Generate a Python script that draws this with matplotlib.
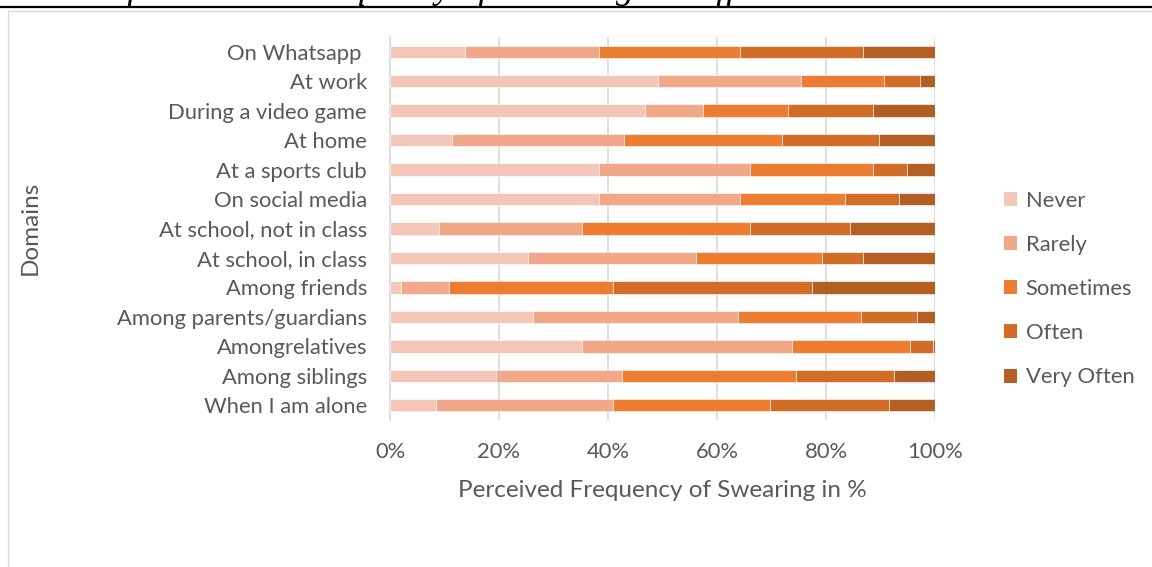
import matplotlib
matplotlib.use("Agg")
import matplotlib.pyplot as plt
from matplotlib.patches import Rectangle, Patch
from matplotlib.lines import Line2D
import numpy as np

categories = ["On Whatsapp ", "At work", "During a video game", "At home",
              "At a sports club", "On social media", "At school, not in class",
              "At school, in class", "Among friends", "Among parents/guardians",
              "Amongrelatives", "Among siblings", "When I am alone"]
never =      [13.7, 49.1, 46.7, 11.3, 38.3, 38.3,  9.0, 25.4,  2.0, 26.3, 35.3, 19.4,  8.4]
rarely =     [24.6, 26.4, 10.8, 31.7, 27.8, 25.9, 26.3, 30.8,  8.8, 37.5, 38.4, 23.1, 32.6]
sometimes =  [25.9, 15.1, 15.6, 29.0, 22.6, 19.2, 30.7, 23.1, 30.2, 22.6, 21.8, 32.0, 28.8]
often =      [22.6,  6.7, 15.6, 17.8,  6.1, 10.0, 18.4,  7.5, 36.5, 10.3,  4.2, 18.0, 21.8]
very_often = [13.2,  2.7, 11.3, 10.2,  5.2,  6.6, 15.6, 13.2, 22.5,  3.3,  0.3,  7.5,  8.4]
series_names = ["Never", "Rarely", "Sometimes", "Often", "Very Often"]
xticks = [0, 20, 40, 60, 80, 100]
xtick_labels = ["0%", "20%", "40%", "60%", "80%", "100%"]

colors = ["#F4C6B7", "#F0A889", "#ED7D31", "#D26D28", "#B35E22"]
txt = "#595959"
font = "Lato"
fs = 15.8

W, H = 1152, 567
fig = plt.figure(figsize=(W / 100, H / 100), dpi=100)

# title remnant (clipped by the top edge, as in the reference) + rule + chart border
fig.text(-0.003, 1 + 1.5 / H, "Results of Perceived Frequency of Swearing in Different Contexts",
         family="Liberation Serif", style="italic", fontsize=26,
         va="baseline", ha="left", color="black")
fig.add_artist(Line2D([0, 1], [1 - 7 / H, 1 - 7 / H], transform=fig.transFigure,
                      color="black", lw=1.6))
fig.add_artist(Rectangle((8 / W, -0.1), 1.2, 1.1 - 11 / H, transform=fig.transFigure,
                         fill=False, edgecolor="#D9D9D9", lw=1))

ax = fig.add_axes([390 / W, 1 - 420 / H, (935 - 390) / W, (420 - 37) / H])
data = [never, rarely, sometimes, often, very_often]
y = np.arange(len(categories))
left = np.zeros(len(categories))
for vals, c, name in zip(data, colors, series_names):
    v = np.array(vals)
    ax.barh(y, v, left=left, height=0.42, color=c, edgecolor="white", linewidth=0.4,
            label=name, zorder=3)
    left += v

ax.set_ylim(len(categories) - 0.5, -0.5)
ax.set_xlim(0, 100)
ax.set_xticks(xticks)
ax.set_xticklabels(xtick_labels, family=font, fontsize=fs, color=txt)
ax.set_yticks(y)
ax.set_yticklabels(categories, family=font, fontsize=fs, color=txt)
ax.tick_params(length=0)
ax.tick_params(axis="x", pad=16)
ax.tick_params(axis="y", pad=16.5)
ax.grid(axis="x", color="#D9D9D9", lw=1.2, zorder=0)
for s in ["top", "right", "bottom"]:
    ax.spines[s].set_visible(False)
ax.spines["left"].set_color("#D9D9D9")
ax.spines["left"].set_linewidth(1.2)
ax.set_xlabel("Perceived Frequency of Swearing in %", family=font, fontsize=17.5,
              color=txt, labelpad=13)
fig.text(30 / W, 1 - 228 / H, "Domains", rotation=90, family=font, fontsize=17.5,
         color=txt, ha="center", va="center")

handles = [Patch(facecolor=c, edgecolor="none") for c in colors]
fig.legend(handles, series_names, loc="upper left", bbox_to_anchor=(995 / W, 1 - 182 / H),
           frameon=False, prop={"family": font, "size": fs}, labelcolor=txt,
           handlelength=0.6, handleheight=0.6, handletextpad=0.4, labelspacing=1.1,
           borderaxespad=0)

fig.savefig("out.png", dpi=100)
